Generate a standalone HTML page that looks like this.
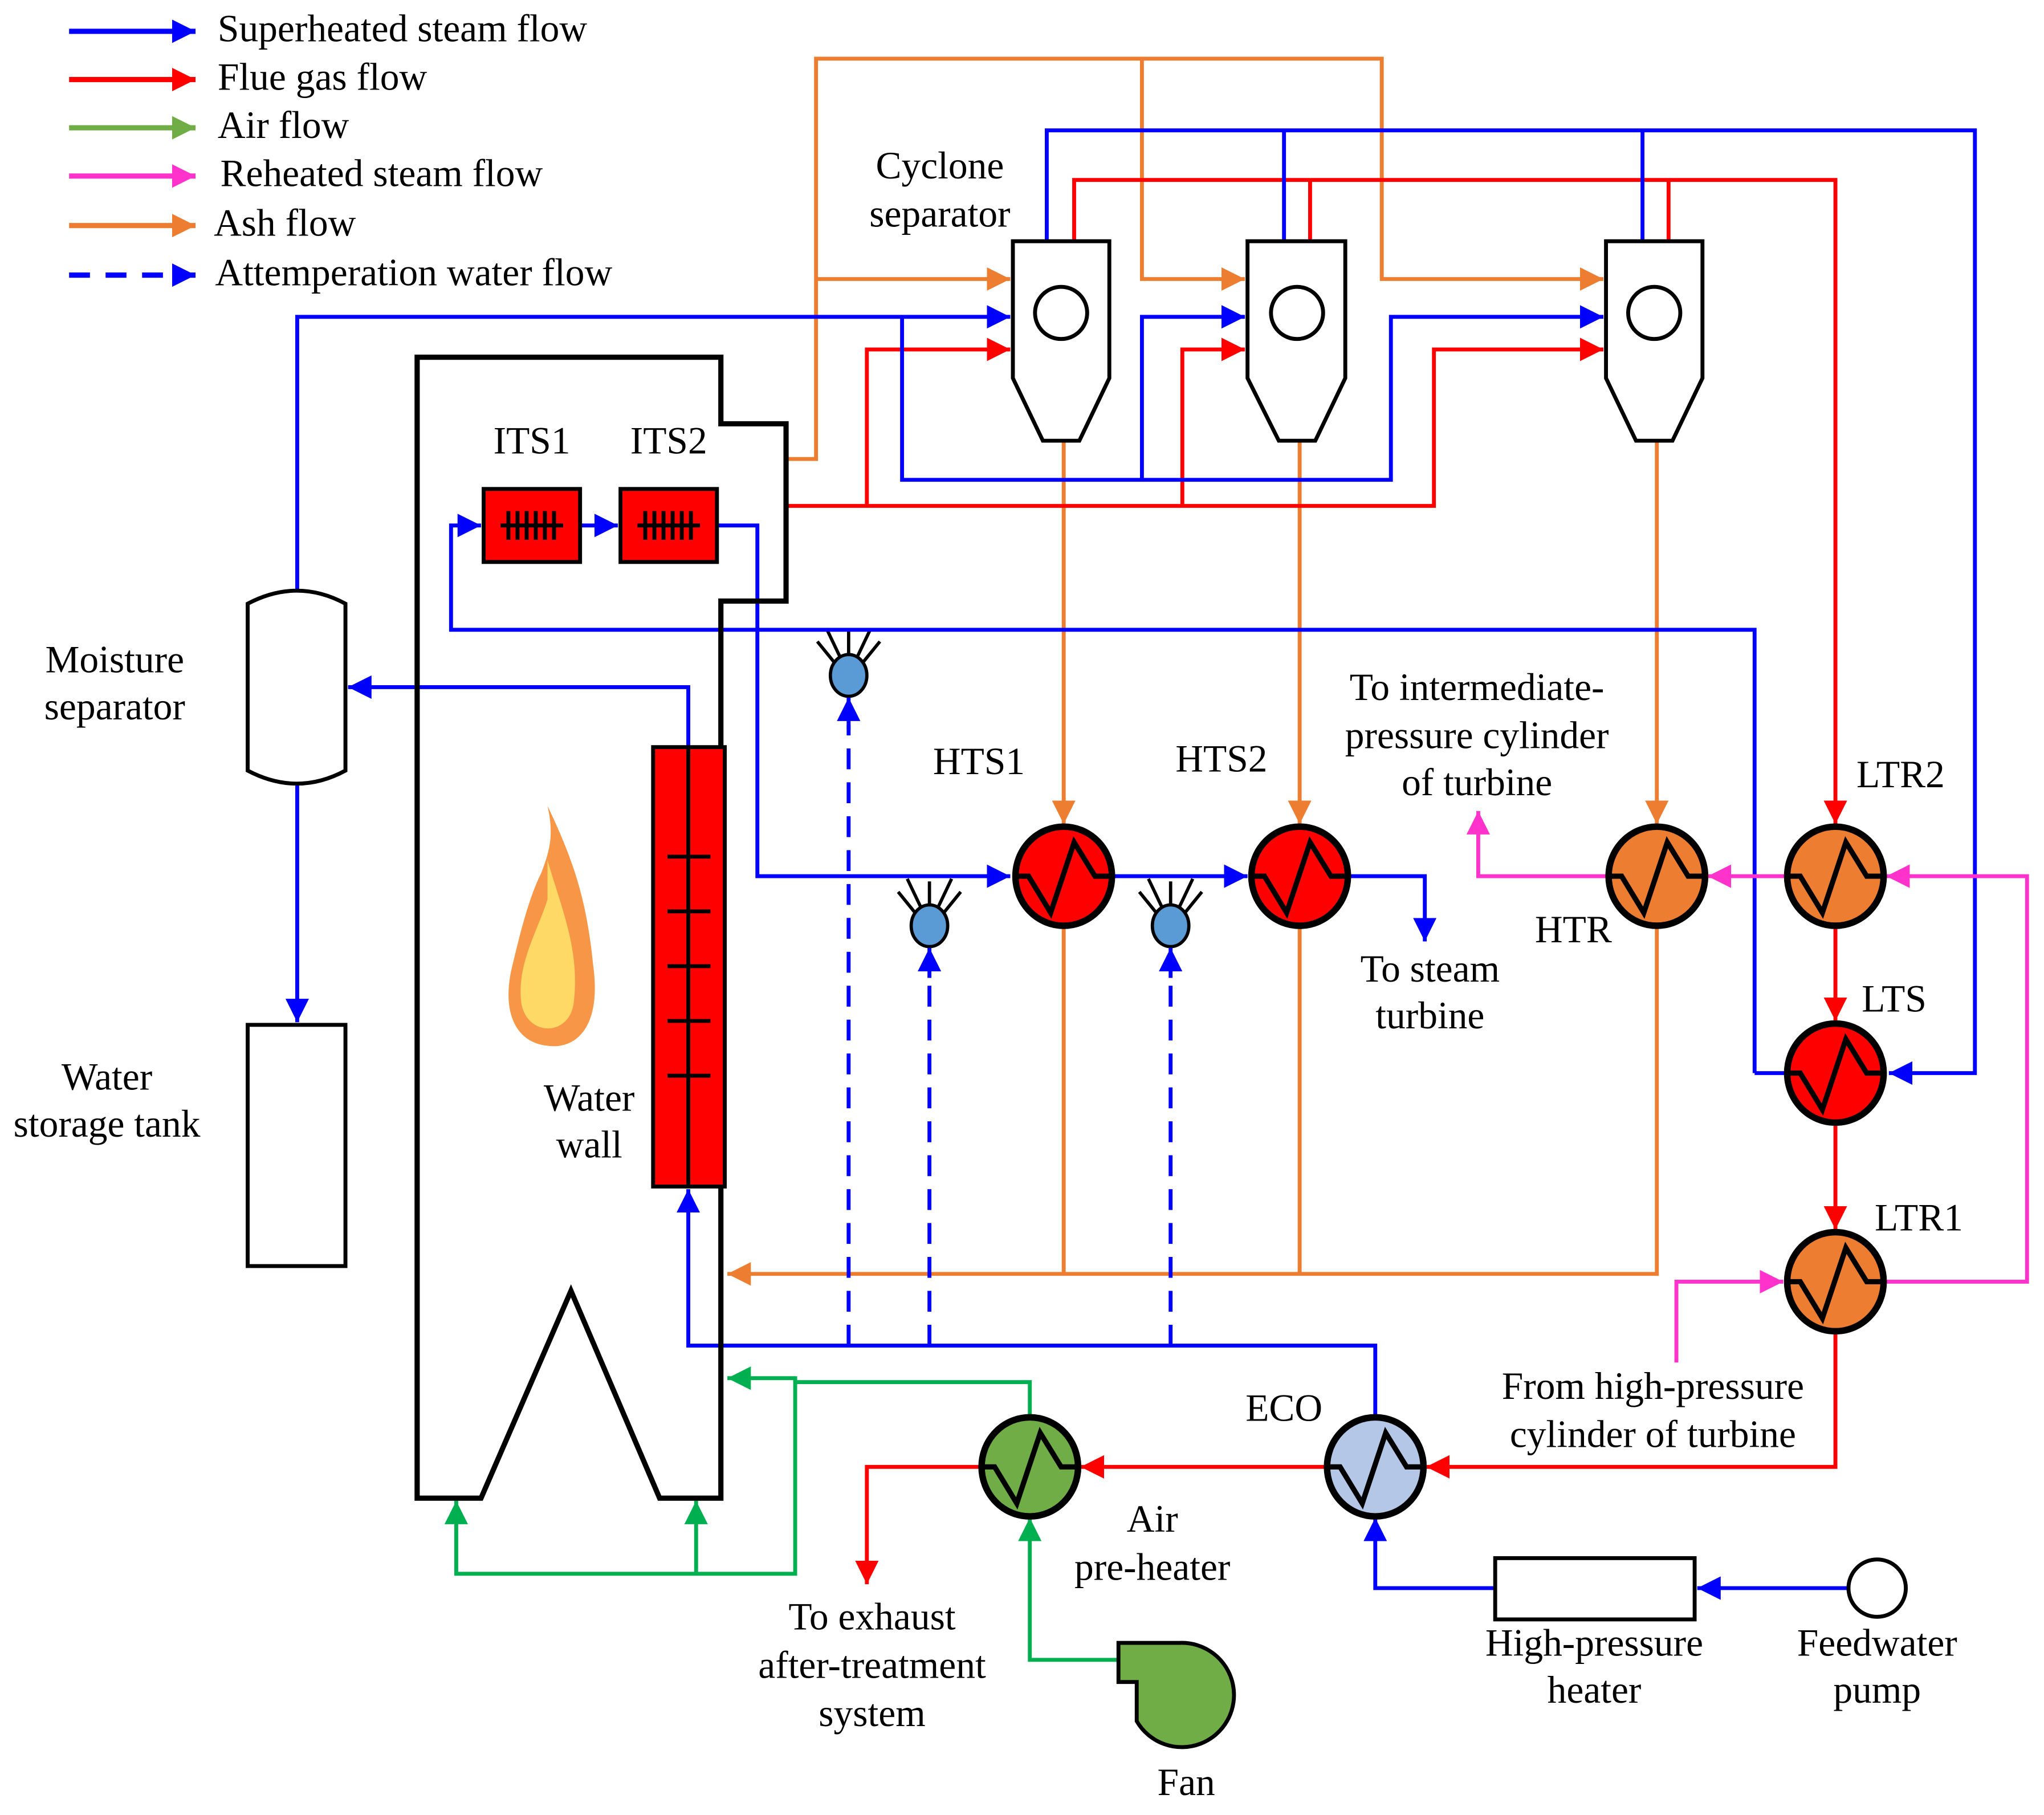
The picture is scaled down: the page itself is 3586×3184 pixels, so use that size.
<!DOCTYPE html>
<html><head><meta charset="utf-8"><style>html,body{margin:0;padding:0;background:#fff}svg{display:block}</style></head>
<body>
<svg xmlns="http://www.w3.org/2000/svg" width="3586" height="3184" viewBox="0 0 1568 1392" preserveAspectRatio="none" font-family="'Liberation Serif',serif" font-size="29.5">
<defs>
<marker id="ab" markerUnits="userSpaceOnUse" markerWidth="20" markerHeight="18" refX="18" refY="9" orient="auto"><path d="M0,0L18,9L0,18z" fill="#0000ff"/></marker>
<marker id="ar" markerUnits="userSpaceOnUse" markerWidth="20" markerHeight="18" refX="18" refY="9" orient="auto"><path d="M0,0L18,9L0,18z" fill="#ff0000"/></marker>
<marker id="ag" markerUnits="userSpaceOnUse" markerWidth="20" markerHeight="18" refX="18" refY="9" orient="auto"><path d="M0,0L18,9L0,18z" fill="#00b050"/></marker>
<marker id="agl" markerUnits="userSpaceOnUse" markerWidth="20" markerHeight="18" refX="18" refY="9" orient="auto"><path d="M0,0L18,9L0,18z" fill="#70ad47"/></marker>
<marker id="ap" markerUnits="userSpaceOnUse" markerWidth="20" markerHeight="18" refX="18" refY="9" orient="auto"><path d="M0,0L18,9L0,18z" fill="#ff33cc"/></marker>
<marker id="ao" markerUnits="userSpaceOnUse" markerWidth="20" markerHeight="18" refX="18" refY="9" orient="auto"><path d="M0,0L18,9L0,18z" fill="#ed7d31"/></marker>
<g id="zz"><path d="M-37,0H-27L-10,28L8,-26L24,0H37" fill="none" stroke="#000" stroke-width="4"/></g>
</defs>

<!-- Legend -->
<g stroke-width="4" fill="none">
<path d="M53,24H150" stroke="#0000ff" marker-end="url(#ab)"/>
<path d="M53,61H150" stroke="#ff0000" marker-end="url(#ar)"/>
<path d="M53,98H150" stroke="#70ad47" marker-end="url(#agl)"/>
<path d="M53,135H150" stroke="#ff33cc" marker-end="url(#ap)"/>
<path d="M53,173H150" stroke="#ed7d31" marker-end="url(#ao)"/>
<path d="M53,211H150" stroke="#0000ff" stroke-dasharray="16,12" marker-end="url(#ab)"/>
</g>
<g dominant-baseline="middle">
<text x="167" y="25">Superheated steam flow</text>
<text x="167" y="62">Flue gas flow</text>
<text x="167" y="99">Air flow</text>
<text x="169" y="136">Reheated steam flow</text>
<text x="164" y="174">Ash flow</text>
<text x="165" y="212">Attemperation water flow</text>
</g>

<!-- Ash (orange) -->
<g stroke="#ed7d31" stroke-width="3" fill="none">
<path d="M603,352H626V45H1060V214H1230" marker-end="url(#ao)"/>
<path d="M626,214H775" marker-end="url(#ao)"/>
<path d="M876,45V214H955" marker-end="url(#ao)"/>
<path d="M816,338V632" marker-end="url(#ao)"/>
<path d="M997,338V632" marker-end="url(#ao)"/>
<path d="M1271,338V632" marker-end="url(#ao)"/>
<path d="M816,710V977M997,710V977"/>
<path d="M1271,710V977H558" marker-end="url(#ao)"/>
</g>

<!-- Flue gas (red) -->
<g stroke="#ff0000" stroke-width="3" fill="none">
<path d="M603,388H1100V268H1230" marker-end="url(#ar)"/>
<path d="M665,388V268H775" marker-end="url(#ar)"/>
<path d="M907,388V268H955" marker-end="url(#ar)"/>
<path d="M824,185V138H1408V632" marker-end="url(#ar)"/>
<path d="M1005,185V138M1280,185V138"/>
<path d="M1408,710V783" marker-end="url(#ar)"/>
<path d="M1408,861V943" marker-end="url(#ar)"/>
<path d="M1408,1021V1125H1094" marker-end="url(#ar)"/>
<path d="M1018,1125H829" marker-end="url(#ar)"/>
<path d="M753,1125H665V1215" marker-end="url(#ar)"/>
</g>

<!-- Attemperators -->
<g stroke="#000" stroke-width="2.5">
<g transform="translate(651,518)"><ellipse rx="14" ry="16" fill="#5b9bd5"/><path d="M0,-16V-34M-7,-15L-17,-36M7,-15L17,-36M-11,-10L-24,-26M11,-10L24,-26" fill="none"/></g>
<g transform="translate(713,710)"><ellipse rx="14" ry="16" fill="#5b9bd5"/><path d="M0,-16V-34M-7,-15L-17,-36M7,-15L17,-36M-11,-10L-24,-26M11,-10L24,-26" fill="none"/></g>
<g transform="translate(898,710)"><ellipse rx="14" ry="16" fill="#5b9bd5"/><path d="M0,-16V-34M-7,-15L-17,-36M7,-15L17,-36M-11,-10L-24,-26M11,-10L24,-26" fill="none"/></g>
</g>

<!-- Steam (blue) -->
<g stroke="#0000ff" stroke-width="3" fill="none">
<path d="M228,453V243H775" marker-end="url(#ab)"/>
<path d="M692,243V368H1067V243H1230" marker-end="url(#ab)"/>
<path d="M876,368V243H955" marker-end="url(#ab)"/>
<path d="M803,185V100H1515V823H1449" marker-end="url(#ab)"/>
<path d="M985,185V100M1260,185V100"/>
<path d="M528,573V527H267" marker-end="url(#ab)"/>
<path d="M228,601V784" marker-end="url(#ab)"/>
<path d="M1346,823V483H346V403H369" marker-end="url(#ab)"/>
<path d="M1346,823H1370"/>
<path d="M445,403H474" marker-end="url(#ab)"/>
<path d="M550,403H581V672H775" marker-end="url(#ab)"/>
<path d="M853,672H957" marker-end="url(#ab)"/>
<path d="M1036,672H1093V722" marker-end="url(#ab)"/>
<path d="M1055,1088V1032H528V912" marker-end="url(#ab)"/>
<path d="M1418,1218H1302" marker-end="url(#ab)"/>
<path d="M1147,1218H1055V1164" marker-end="url(#ab)"/>
<path d="M651,1032V556M713,1032V746M898,1032V746" stroke-dasharray="16,10"/>
<path d="M651,560V535" marker-end="url(#ab)"/>
<path d="M713,750V727" marker-end="url(#ab)"/>
<path d="M898,750V727" marker-end="url(#ab)"/>
</g>

<!-- Reheat (pink) -->
<g stroke="#ff33cc" stroke-width="3" fill="none">
<path d="M1445,983H1555V672H1447" marker-end="url(#ap)"/>
<path d="M1370,672H1310" marker-end="url(#ap)"/>
<path d="M1234,672H1134V622" marker-end="url(#ap)"/>
<path d="M1286,1045V983H1368" marker-end="url(#ap)"/>
</g>

<!-- Air (green) -->
<g stroke="#00b050" stroke-width="3" fill="none">
<path d="M790,1088V1060H610V1207H350V1151" marker-end="url(#ag)"/>
<path d="M610,1060V1057H558" marker-end="url(#ag)"/>
<path d="M534,1207V1151" marker-end="url(#ag)"/>
<path d="M858,1273H790V1164" marker-end="url(#ag)"/>
</g>

<!-- Boiler -->
<path d="M320,274H553V325H603V461H553V1149H506L438,990L369,1149H320Z" fill="none" stroke="#000" stroke-width="4"/>
<g stroke="#000" stroke-width="3">
<rect x="371" y="375" width="74" height="56" fill="#ff0000"/>
<rect x="476" y="375" width="74" height="56" fill="#ff0000"/>
<path d="M390,392V414M397,392V414M404,392V414M411,392V414M418,392V414M425,392V414M384,403H432"/>
<path d="M495,392V414M502,392V414M509,392V414M516,392V414M523,392V414M530,392V414M489,403H537"/>
<rect x="501" y="573" width="55" height="337" fill="#ff0000"/>
<path d="M528,573V910M512,657H545M512,699H545M512,741H545M512,783H545M512,825H545"/>
</g>
<!-- flame -->
<g>
<path d="M420,618C440,660 450,690 455,740C462,790 440,805 420,802C398,800 385,780 392,745C398,720 405,690 415,670C422,652 425,640 420,618Z" fill="#f79646"/>
<path d="M420,660C432,700 445,730 440,770C436,795 405,795 400,770C396,740 412,715 420,690Z" fill="#ffd966"/>
</g>

<!-- Moisture separator & tank -->
<path d="M190,463Q228,443 265,463V591Q228,611 190,591Z" fill="#fff" stroke="#000" stroke-width="3"/>
<rect x="190" y="786" width="75" height="185" fill="#fff" stroke="#000" stroke-width="3"/>

<!-- Cyclones -->
<g fill="#fff" stroke="#000" stroke-width="3">
<path d="M777,185H851V290L828,338H800L777,290Z"/><circle cx="814" cy="240" r="20"/>
<path d="M957,185H1032V290L1009,338H981L957,290Z"/><circle cx="995" cy="240" r="20"/>
<path d="M1232,185H1306V290L1283,338H1255L1232,290Z"/><circle cx="1269" cy="240" r="20"/>
</g>

<!-- Heat exchangers -->
<g stroke="#000" stroke-width="5">
<ellipse cx="816" cy="672" rx="37" ry="38" fill="#ff0000"/>
<ellipse cx="997" cy="672" rx="37" ry="38" fill="#ff0000"/>
<ellipse cx="1271" cy="672" rx="37" ry="38" fill="#ed7d31"/>
<ellipse cx="1408" cy="672" rx="37" ry="38" fill="#ed7d31"/>
<ellipse cx="1408" cy="823" rx="37" ry="38" fill="#ff0000"/>
<ellipse cx="1408" cy="983" rx="37" ry="38" fill="#ed7d31"/>
<ellipse cx="1055" cy="1125" rx="37" ry="38" fill="#b4c7e7"/>
<ellipse cx="790" cy="1125" rx="37" ry="38" fill="#70ad47"/>
</g>
<use href="#zz" x="816" y="672"/><use href="#zz" x="997" y="672"/><use href="#zz" x="1271" y="672"/>
<use href="#zz" x="1408" y="672"/><use href="#zz" x="1408" y="823"/><use href="#zz" x="1408" y="983"/>
<use href="#zz" x="1055" y="1125"/><use href="#zz" x="790" y="1125"/>

<!-- HP heater, pump, fan -->
<rect x="1147" y="1195" width="153" height="47" fill="#fff" stroke="#000" stroke-width="3"/>
<circle cx="1440" cy="1218" r="22" fill="#fff" stroke="#000" stroke-width="3"/>
<path d="M858,1260H905A40,40 0 1 1 872,1320V1290H858Z" fill="#70ad47" stroke="#000" stroke-width="3"/>

<!-- Labels -->
<g text-anchor="middle" dominant-baseline="middle">
<text x="408" y="341">ITS1</text><text x="513" y="341">ITS2</text>
<text x="452" y="845">Water</text><text x="452" y="881">wall</text>
<text x="88" y="509">Moisture</text><text x="88" y="545">separator</text>
<text x="82" y="829">Water</text><text x="82" y="865">storage tank</text>
<text x="721" y="130">Cyclone</text><text x="721" y="167">separator</text>
<text x="751" y="587">HTS1</text><text x="937" y="585">HTS2</text>
<text x="1133" y="530">To intermediate-</text><text x="1133" y="567">pressure cylinder</text><text x="1133" y="603">of turbine</text>
<text x="1458" y="597">LTR2</text><text x="1207" y="716">HTR</text>
<text x="1097" y="746">To steam</text><text x="1097" y="782">turbine</text>
<text x="1453" y="769">LTS</text><text x="1472" y="937">LTR1</text>
<text x="1268" y="1066">From high-pressure</text><text x="1268" y="1103">cylinder of turbine</text>
<text x="985" y="1083">ECO</text>
<text x="884" y="1168">Air</text><text x="884" y="1205">pre-heater</text>
<text x="669" y="1243">To exhaust</text><text x="669" y="1280">after-treatment</text><text x="669" y="1317">system</text>
<text x="1223" y="1263">High-pressure</text><text x="1223" y="1299">heater</text>
<text x="1440" y="1263">Feedwater</text><text x="1440" y="1299">pump</text>
<text x="910" y="1370">Fan</text>
</g>
</svg>
</body></html>
